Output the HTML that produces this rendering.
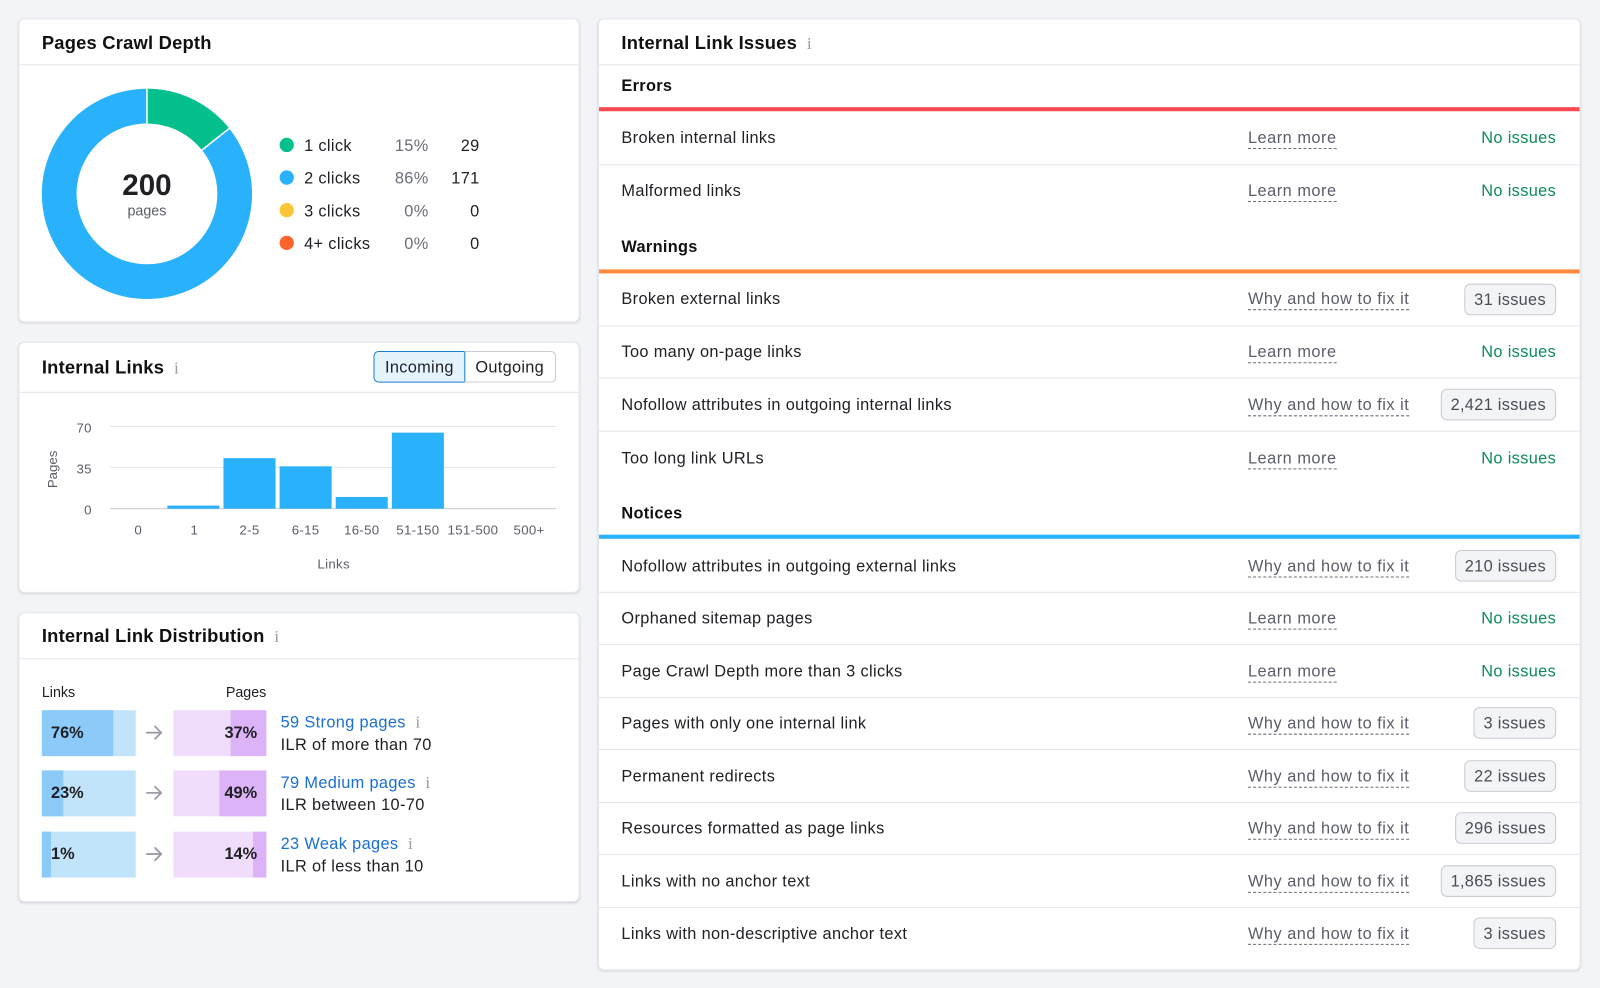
<!DOCTYPE html>
<html><head><meta charset="utf-8">
<style>
html,body{margin:0;padding:0;width:1600px;height:988px;overflow:hidden;background:#f3f4f8;}
#w{position:absolute;left:0;top:0;width:1568px;height:968px;transform:scale(1.020408);transform-origin:0 0;font-family:"Liberation Sans",Arial,sans-serif;color:#1f1f24;}
.card{position:absolute;background:#fff;border-radius:6px;box-shadow:0 1px 2px rgba(0,0,0,.12);border:1px solid #e6e7ec;box-sizing:border-box;}
.t{position:absolute;white-space:nowrap;line-height:20px;margin-top:2px;}
.h{font-size:18px;font-weight:bold;color:#111;letter-spacing:.2px;}
.hl{position:absolute;height:1px;background:#e3e4ea;}
.i{color:#9a9ca6;font-family:"Liberation Serif",serif;font-size:17px;font-weight:normal;}
.lab{font-size:16px;color:#1f1f24;letter-spacing:.35px;}
.lnk{font-size:16px;color:#5b5e68;border-bottom:1px dashed #6b6e78;line-height:18px;letter-spacing:.5px;}
.ok{font-size:16px;color:#0d8a5a;letter-spacing:.35px;}
.badge{position:absolute;font-size:16px;color:#4a4d57;border:1px solid #c9cad2;background:#f3f4f6;border-radius:6px;height:31px;line-height:30px;padding:1px 9px 0;margin-top:1px;box-sizing:border-box;white-space:nowrap;letter-spacing:.3px;}
.sec{font-size:16px;font-weight:bold;color:#111;letter-spacing:.3px;}
.ax{font-size:13px;color:#5b5e68;letter-spacing:.3px;}
</style></head><body><div id="w">

<div class="card" style="left:18px;top:18px;width:550px;height:298px;"></div>
<div class="t h" style="left:41px;top:30px;">Pages Crawl Depth</div>
<div class="hl" style="left:19px;top:63px;width:548px;"></div>
<svg style="position:absolute;left:0;top:0" width="600" height="330">
<circle cx="144" cy="190" r="86" fill="none" stroke="#29b1fb" stroke-width="34"/>
<path d="M144 87 A103 103 0 0 1 224.6 125.9 L198 147 A69 69 0 0 0 144 121 Z" fill="#05c08c"/>
<line x1="144" y1="87" x2="144" y2="121" stroke="#fff" stroke-width="1.5"/>
<line x1="224.6" y1="125.9" x2="198" y2="147" stroke="#fff" stroke-width="1.5"/>
<circle cx="281" cy="142" r="7" fill="#05c08c"/>
<circle cx="281" cy="174" r="7" fill="#29b1fb"/>
<circle cx="281" cy="206" r="7" fill="#fcc537"/>
<circle cx="281" cy="238" r="7" fill="#ff642d"/>
</svg>
<div class="t" style="left:94px;top:164px;width:100px;text-align:center;font-size:29px;font-weight:bold;line-height:32px;">200</div>
<div class="t" style="left:94px;top:194px;width:100px;text-align:center;font-size:14px;color:#5b5e68;">pages</div>
<div class="t lab" style="left:298px;top:132px;">1 click</div>
<div class="t lab" style="left:298px;top:164px;">2 clicks</div>
<div class="t lab" style="left:298px;top:196px;">3 clicks</div>
<div class="t lab" style="left:298px;top:228px;">4+ clicks</div>
<div class="t lab" style="left:360px;top:132px;width:60px;text-align:right;color:#6b6e78;">15%</div>
<div class="t lab" style="left:360px;top:164px;width:60px;text-align:right;color:#6b6e78;">86%</div>
<div class="t lab" style="left:360px;top:196px;width:60px;text-align:right;color:#6b6e78;">0%</div>
<div class="t lab" style="left:360px;top:228px;width:60px;text-align:right;color:#6b6e78;">0%</div>
<div class="t lab" style="left:420px;top:132px;width:50px;text-align:right;">29</div>
<div class="t lab" style="left:420px;top:164px;width:50px;text-align:right;">171</div>
<div class="t lab" style="left:420px;top:196px;width:50px;text-align:right;">0</div>
<div class="t lab" style="left:420px;top:228px;width:50px;text-align:right;">0</div>

<div class="card" style="left:18px;top:335px;width:550px;height:246px;"></div>
<div class="t h" style="left:41px;top:348px;">Internal Links <span class="i">&nbsp;i</span></div>
<div class="hl" style="left:19px;top:384px;width:548px;"></div>
<div style="position:absolute;left:366px;top:344px;width:90px;height:31px;box-sizing:border-box;border:1px solid #1a7fd1;background:#e5f3fd;border-radius:5px 0 0 5px;font-size:16px;line-height:31px;text-align:center;letter-spacing:.3px;">Incoming</div>
<div style="position:absolute;left:455px;top:344px;width:90px;height:31px;box-sizing:border-box;border:1px solid #c9cad2;border-left:none;border-radius:0 5px 5px 0;font-size:16px;line-height:31px;text-align:center;letter-spacing:.3px;">Outgoing</div>
<svg style="position:absolute;left:0;top:0" width="600" height="600">
<line x1="108" y1="418" x2="545" y2="418" stroke="#e3e4ea"/>
<line x1="108" y1="458" x2="545" y2="458" stroke="#e3e4ea"/>
<line x1="108" y1="498.5" x2="545" y2="498.5" stroke="#c9cad2"/>
<g fill="#29b1fb">
<rect x="164" y="495.5" width="51" height="3"/>
<rect x="219" y="449" width="51" height="49.5"/>
<rect x="274" y="457" width="51" height="41.5"/>
<rect x="329" y="487" width="51" height="11.5"/>
<rect x="384" y="424" width="51" height="74.5"/>
</g>
<text x="56" y="460" transform="rotate(-90 56 460)" text-anchor="middle" font-family="Liberation Sans" font-size="13" fill="#5b5e68">Pages</text>
</svg>
<div class="t ax" style="left:50px;top:408px;width:40px;text-align:right;">70</div>
<div class="t ax" style="left:50px;top:448px;width:40px;text-align:right;">35</div>
<div class="t ax" style="left:50px;top:488px;width:40px;text-align:right;">0</div>
<div class="t ax" style="left:108px;top:508px;width:55px;text-align:center;">0</div>
<div class="t ax" style="left:163px;top:508px;width:55px;text-align:center;">1</div>
<div class="t ax" style="left:217px;top:508px;width:55px;text-align:center;">2-5</div>
<div class="t ax" style="left:272px;top:508px;width:55px;text-align:center;">6-15</div>
<div class="t ax" style="left:327px;top:508px;width:55px;text-align:center;">16-50</div>
<div class="t ax" style="left:382px;top:508px;width:55px;text-align:center;">51-150</div>
<div class="t ax" style="left:436px;top:508px;width:55px;text-align:center;">151-500</div>
<div class="t ax" style="left:491px;top:508px;width:55px;text-align:center;">500+</div>
<div class="t ax" style="left:287px;top:541px;width:80px;text-align:center;">Links</div>

<div class="card" style="left:18px;top:600px;width:550px;height:284px;"></div>
<div class="t h" style="left:41px;top:611px;">Internal Link Distribution <span class="i">&nbsp;i</span></div>
<div class="hl" style="left:19px;top:645px;width:548px;"></div>
<div class="t" style="left:41px;top:666px;font-size:14px;">Links</div>
<div class="t" style="left:181px;top:666px;width:80px;text-align:right;font-size:14px;">Pages</div>

<div style="position:absolute;left:41px;top:696px;width:92px;height:45px;background:#c2e4fb;"><div style="width:70px;height:45px;background:#8ccbf9;"></div></div>
<div style="position:absolute;left:41px;top:755px;width:92px;height:45px;background:#c2e4fb;"><div style="width:21px;height:45px;background:#8ccbf9;"></div></div>
<div style="position:absolute;left:41px;top:815px;width:92px;height:45px;background:#c2e4fb;"><div style="width:9px;height:45px;background:#8ccbf9;"></div></div>
<div class="t" style="left:50px;top:707px;font-size:16px;font-weight:bold;">76%</div>
<div class="t" style="left:50px;top:766px;font-size:16px;font-weight:bold;">23%</div>
<div class="t" style="left:50px;top:826px;font-size:16px;font-weight:bold;">1%</div>

<div style="position:absolute;left:170px;top:696px;width:91px;height:45px;background:#f0dcfb;"><div style="position:absolute;right:0;width:35px;height:45px;background:#dcb3f6;"></div></div>
<div style="position:absolute;left:170px;top:755px;width:91px;height:45px;background:#f0dcfb;"><div style="position:absolute;right:0;width:46px;height:45px;background:#dcb3f6;"></div></div>
<div style="position:absolute;left:170px;top:815px;width:91px;height:45px;background:#f0dcfb;"><div style="position:absolute;right:0;width:13px;height:45px;background:#dcb3f6;"></div></div>
<div class="t" style="left:180px;top:707px;width:72px;text-align:right;font-size:16px;font-weight:bold;">37%</div>
<div class="t" style="left:180px;top:766px;width:72px;text-align:right;font-size:16px;font-weight:bold;">49%</div>
<div class="t" style="left:180px;top:826px;width:72px;text-align:right;font-size:16px;font-weight:bold;">14%</div>
<svg style="position:absolute;left:0;top:0" width="200" height="900">
<g stroke="#9a9ca6" stroke-width="1.8" fill="none" stroke-linecap="round">
<path d="M144 718h14M152 712l6 6-6 6"/>
<path d="M144 777h14M152 771l6 6-6 6"/>
<path d="M144 837h14M152 831l6 6-6 6"/>
</g></svg>
<div class="t" style="left:275px;top:696px;font-size:16px;color:#1a6fd1;letter-spacing:.35px;">59 Strong pages <span class="i">&nbsp;i</span></div>
<div class="t lab" style="left:275px;top:719px;">ILR of more than 70</div>
<div class="t" style="left:275px;top:755px;font-size:16px;color:#1a6fd1;letter-spacing:.35px;">79 Medium pages <span class="i">&nbsp;i</span></div>
<div class="t lab" style="left:275px;top:778px;">ILR between 10-70</div>
<div class="t" style="left:275px;top:815px;font-size:16px;color:#1a6fd1;letter-spacing:.35px;">23 Weak pages <span class="i">&nbsp;i</span></div>
<div class="t lab" style="left:275px;top:838px;">ILR of less than 10</div>

<div class="card" style="left:586px;top:18px;width:963px;height:933px;"></div>
<div class="t h" style="left:609px;top:30px;">Internal Link Issues <span class="i">&nbsp;i</span></div>
<div class="hl" style="left:587px;top:63px;width:961px;"></div>
<div class="t sec" style="left:609px;top:73px;">Errors</div>
<div style="position:absolute;left:587px;top:105px;width:961px;height:4px;background:#ff4953;"></div>
<div class="t sec" style="left:609px;top:231px;">Warnings</div>
<div style="position:absolute;left:587px;top:264px;width:961px;height:4px;background:#ff8a3d;"></div>
<div class="t sec" style="left:609px;top:492px;">Notices</div>
<div style="position:absolute;left:587px;top:524px;width:961px;height:4px;background:#29b1fb;"></div>

<div class="hl" style="left:587px;top:161px;width:961px;"></div>
<div class="hl" style="left:587px;top:319px;width:961px;"></div>
<div class="hl" style="left:587px;top:370px;width:961px;"></div>
<div class="hl" style="left:587px;top:422px;width:961px;"></div>
<div class="hl" style="left:587px;top:580px;width:961px;"></div>
<div class="hl" style="left:587px;top:631px;width:961px;"></div>
<div class="hl" style="left:587px;top:683px;width:961px;"></div>
<div class="hl" style="left:587px;top:734px;width:961px;"></div>
<div class="hl" style="left:587px;top:786px;width:961px;"></div>
<div class="hl" style="left:587px;top:837px;width:961px;"></div>
<div class="hl" style="left:587px;top:889px;width:961px;"></div>

<div class="t lab" style="left:609px;top:124px;">Broken internal links</div>
<div class="t lnk" style="left:1223px;top:125px;">Learn more</div>
<div class="t ok" style="left:1400px;top:124px;width:125px;text-align:right;">No issues</div>

<div class="t lab" style="left:609px;top:176px;">Malformed links</div>
<div class="t lnk" style="left:1223px;top:177px;">Learn more</div>
<div class="t ok" style="left:1400px;top:176px;width:125px;text-align:right;">No issues</div>

<div class="t lab" style="left:609px;top:282px;">Broken external links</div>
<div class="t lnk" style="left:1223px;top:283px;">Why and how to fix it</div>
<div class="badge" style="right:43px;top:277px;">31 issues</div>

<div class="t lab" style="left:609px;top:334px;">Too many on-page links</div>
<div class="t lnk" style="left:1223px;top:335px;">Learn more</div>
<div class="t ok" style="left:1400px;top:334px;width:125px;text-align:right;">No issues</div>

<div class="t lab" style="left:609px;top:386px;">Nofollow attributes in outgoing internal links</div>
<div class="t lnk" style="left:1223px;top:387px;">Why and how to fix it</div>
<div class="badge" style="right:43px;top:380px;">2,421 issues</div>

<div class="t lab" style="left:609px;top:438px;">Too long link URLs</div>
<div class="t lnk" style="left:1223px;top:439px;">Learn more</div>
<div class="t ok" style="left:1400px;top:438px;width:125px;text-align:right;">No issues</div>

<div class="t lab" style="left:609px;top:544px;">Nofollow attributes in outgoing external links</div>
<div class="t lnk" style="left:1223px;top:545px;">Why and how to fix it</div>
<div class="badge" style="right:43px;top:538px;">210 issues</div>

<div class="t lab" style="left:609px;top:595px;">Orphaned sitemap pages</div>
<div class="t lnk" style="left:1223px;top:596px;">Learn more</div>
<div class="t ok" style="left:1400px;top:595px;width:125px;text-align:right;">No issues</div>

<div class="t lab" style="left:609px;top:647px;">Page Crawl Depth more than 3 clicks</div>
<div class="t lnk" style="left:1223px;top:648px;">Learn more</div>
<div class="t ok" style="left:1400px;top:647px;width:125px;text-align:right;">No issues</div>

<div class="t lab" style="left:609px;top:698px;">Pages with only one internal link</div>
<div class="t lnk" style="left:1223px;top:699px;">Why and how to fix it</div>
<div class="badge" style="right:43px;top:692px;">3 issues</div>

<div class="t lab" style="left:609px;top:750px;">Permanent redirects</div>
<div class="t lnk" style="left:1223px;top:751px;">Why and how to fix it</div>
<div class="badge" style="right:43px;top:744px;">22 issues</div>

<div class="t lab" style="left:609px;top:801px;">Resources formatted as page links</div>
<div class="t lnk" style="left:1223px;top:802px;">Why and how to fix it</div>
<div class="badge" style="right:43px;top:795px;">296 issues</div>

<div class="t lab" style="left:609px;top:853px;">Links with no anchor text</div>
<div class="t lnk" style="left:1223px;top:854px;">Why and how to fix it</div>
<div class="badge" style="right:43px;top:847px;">1,865 issues</div>

<div class="t lab" style="left:609px;top:904px;">Links with non-descriptive anchor text</div>
<div class="t lnk" style="left:1223px;top:905px;">Why and how to fix it</div>
<div class="badge" style="right:43px;top:898px;">3 issues</div>

</div></body></html>
